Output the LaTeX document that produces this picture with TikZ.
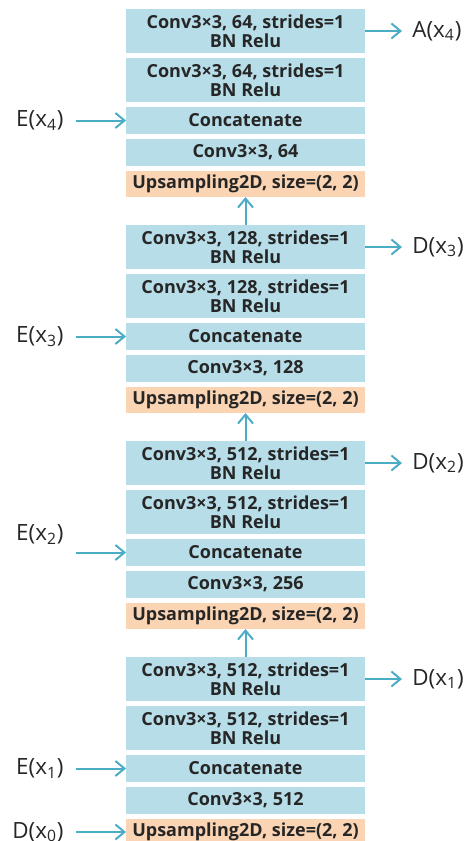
\documentclass[tikz,border=0pt]{standalone}
\usepackage{fontspec}
\setmainfont{Open Sans}
\usetikzlibrary{arrows.meta,positioning}
\definecolor{boxblue}{RGB}{183,221,232}
\definecolor{boxpeach}{RGB}{251,212,180}
\definecolor{flowcyan}{RGB}{75,172,198}
\definecolor{inkgrey}{RGB}{38,38,38}

\begin{document}
\begin{tikzpicture}[node distance=2.5pt, every node/.style={text=inkgrey},
  layer/.style={fill=boxblue,minimum width=119.5pt,inner sep=0pt,outer sep=0pt,
                align=center,font=\bfseries\fontsize{9}{9.5}\selectfont},
  dbl/.style={layer,minimum height=22pt},
  sgl/.style={layer,minimum height=13.5pt},
  upsm/.style={layer,fill=boxpeach,minimum height=13pt},
  lbl/.style={inner sep=0pt,font=\fontsize{11.2}{13}\selectfont},
  ar/.style={-{Straight Barb[length=4.5pt,width=7.5pt]},flowcyan,line width=1pt}]

\useasboundingbox (0,0) rectangle (236pt,-420.5pt);

% stage 4 (top)
\node[dbl] (a4) at (122.75pt,-15.5pt) {Conv3×3, 64, strides=1\\BN Relu};
\node[dbl,below=of a4]   (b4)   {Conv3×3, 64, strides=1\\BN Relu};
\node[sgl,below=of b4]   (cat4) {Concatenate};
\node[sgl,below=of cat4] (cv4)  {Conv3×3, 64};
\node[upsm,below=of cv4] (up4)  {Upsampling2D, size=(2, 2)};

% stage 3
\node[dbl] (a3) at (122.75pt,-123.5pt) {Conv3×3, 128, strides=1\\BN Relu};
\node[dbl,below=of a3]   (b3)   {Conv3×3, 128, strides=1\\BN Relu};
\node[sgl,below=of b3]   (cat3) {Concatenate};
\node[sgl,below=of cat3] (cv3)  {Conv3×3, 128};
\node[upsm,below=of cv3] (up3)  {Upsampling2D, size=(2, 2)};

% stage 2
\node[dbl] (a2) at (122.75pt,-231.5pt) {Conv3×3, 512, strides=1\\BN Relu};
\node[dbl,below=of a2]   (b2)   {Conv3×3, 512, strides=1\\BN Relu};
\node[sgl,below=of b2]   (cat2) {Concatenate};
\node[sgl,below=of cat2] (cv2)  {Conv3×3, 256};
\node[upsm,below=of cv2] (up2)  {Upsampling2D, size=(2, 2)};

% stage 1 (bottom)
\node[dbl] (a1) at (122.75pt,-339.5pt) {Conv3×3, 512, strides=1\\BN Relu};
\node[dbl,below=of a1]   (b1)   {Conv3×3, 512, strides=1\\BN Relu};
\node[sgl,below=of b1]   (cat1) {Concatenate};
\node[sgl,below=of cat1] (cv1)  {Conv3×3, 512};
\node[upsm,below=of cv1] (up1)  {Upsampling2D, size=(2, 2)};

\foreach \a/\b in {a3/up4,a2/up3,a1/up2} \draw[ar] (\a) -- (\b);

% outputs on the right
\node[lbl,right=23.5pt of a4] (o4) {A(x\textsubscript{4})};
\node[lbl,right=23.5pt of a3] (d3) {D(x\textsubscript{3})};
\node[lbl,right=23.5pt of a2] (d2) {D(x\textsubscript{2})};
\node[lbl,right=23.5pt of a1] (d1) {D(x\textsubscript{1})};
\foreach \a/\b in {a4/o4,a3/d3,a2/d2,a1/d1} \draw[ar,shorten >=5pt] (\a) -- (\b);

% skip inputs on the left
\node[lbl,left=31pt of cat4] (e4) {E(x\textsubscript{4})};
\node[lbl,left=31pt of cat3] (e3) {E(x\textsubscript{3})};
\coordinate[left=25pt of cat2] (in2);
\node[lbl,left=6pt of in2,yshift=9pt] (e2) {E(x\textsubscript{2})};
\node[lbl,left=31pt of cat1] (e1) {E(x\textsubscript{1})};
\node[lbl,left=31pt of up1]  (d0) {D(x\textsubscript{0})};
\foreach \a/\b in {e4/cat4,e3/cat3,e1/cat1,d0/up1} \draw[ar,shorten <=6pt] (\a) -- (\b);
\draw[ar] (in2) -- (cat2);
\end{tikzpicture}
\end{document}
